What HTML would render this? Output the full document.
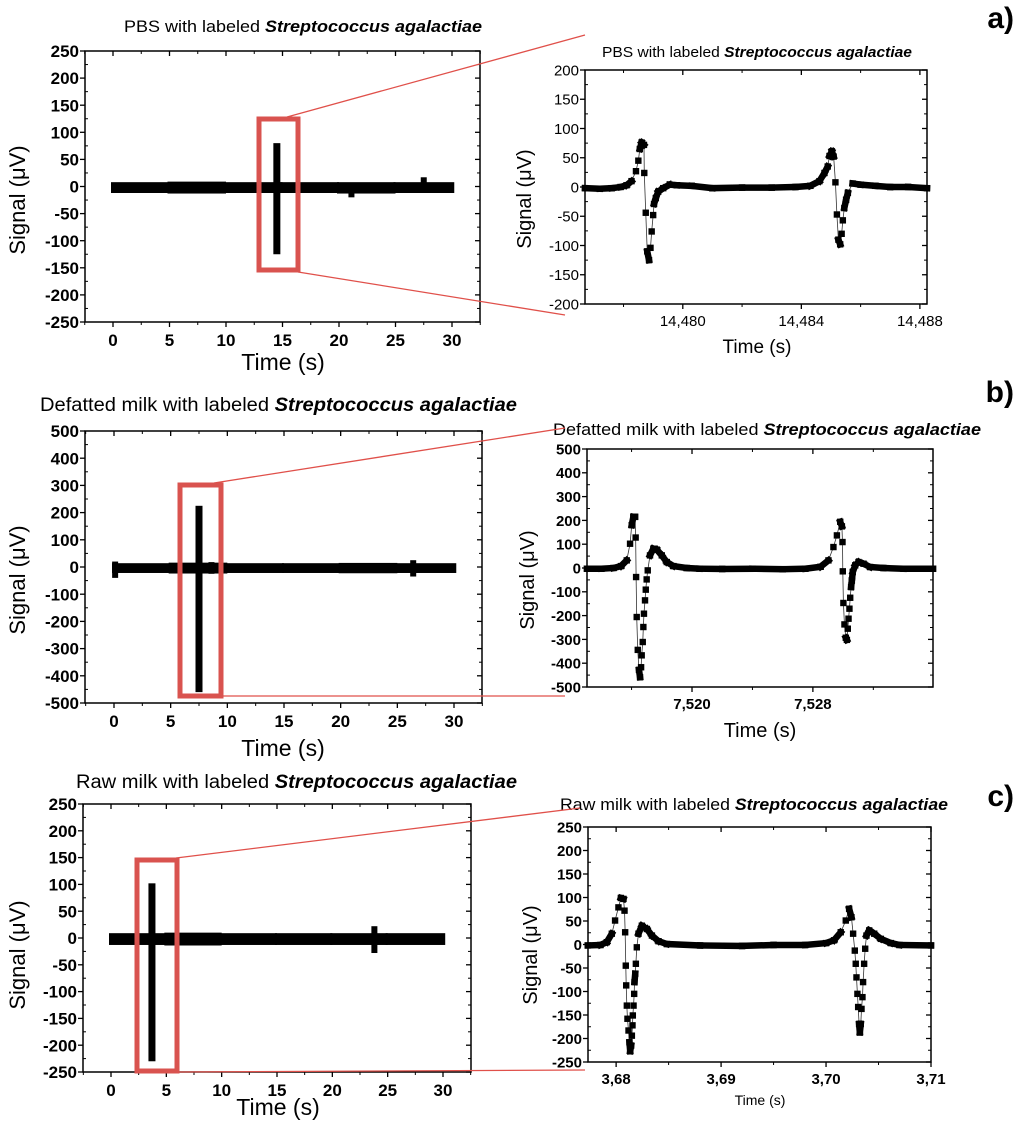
<!DOCTYPE html>
<html><head><meta charset="utf-8">
<style>
html,body{margin:0;padding:0;background:#fff;}
svg{display:block;font-family:"Liberation Sans",Arial,sans-serif;}
</style></head>
<body>
<svg id="fig" width="1024" height="1137" viewBox="0 0 1024 1137" xmlns="http://www.w3.org/2000/svg"></svg>
<script>
// ---------- Overview (left) data ----------
const aBandTimes = [0, 5, 10, 15, 20, 25, 30.2];
const aBandLo = [-12, -13, -12, -12, -13, -12];
const aBandHi = [8, 9, 8, 8, 8, 8];
const aEventTimes = [14.5, 21.1, 27.5];
const aEventLo = [-125, -20, -5];
const aEventHi = [80, 5, 17];

const bBandTimes = [0, 5, 10, 15, 20, 25, 30.2];
const bBandLo = [-22, -24, -22, -22, -23, -22];
const bBandHi = [14, 16, 14, 14, 15, 14];
const bEventTimes = [7.5, 0.1, 8.6, 26.4];
const bEventLo = [-460, -40, -25, -35];
const bEventHi = [225, 20, 18, 25];

const cBandTimes = [0, 5, 10, 15, 20, 25, 30.2];
const cBandLo = [-13, -14, -13, -13, -13, -13];
const cBandHi = [9, 10, 9, 9, 9, 9];
const cEventTimes = [3.7, 23.8];
const cEventLo = [-230, -28];
const cEventHi = [102, 22];

// ---------- Detail (right) data ----------
const aDetTimes = [14476.7,14477.2,14477.6,14477.9,14478.1,14478.27,14478.42,14478.5,14478.55,14478.61,14478.69,14478.70,14478.75,14478.80,14478.86,14478.91,14478.95,14479.0,14479.03,14479.09,14479.17,14479.34,14479.56,14479.8,14480.3,14481,14482,14483,14483.8,14484.3,14484.61,14484.78,14484.89,14484.95,14485.03,14485.09,14485.15,14485.20,14485.25,14485.31,14485.36,14485.40,14485.45,14485.51,14485.57,14485.73,14486.0,14486.5,14487,14487.6,14488.24];
const aDetValues = [-2,-3,-2,0,3,10,27,45,65,76,72,24,-44,-110,-125,-104,-76,-48,-29,-19,-8,-2,4,3,2,-2,-1,-1,0,2,10,24,35,53,61,52,8,-47,-90,-98,-80,-57,-36,-22,-10,6,4,2,0,0,-2];

const bDetTimes = [7513.05,7514,7514.8,7515.3,7515.68,7515.90,7516.01,7516.12,7516.23,7516.27,7516.30,7516.34,7516.41,7516.49,7516.56,7516.63,7516.67,7516.74,7516.78,7516.82,7516.89,7516.94,7517.00,7517.07,7517.22,7517.44,7517.67,7518.00,7518.33,7518.77,7519.65,7520.5,7522,7524,7526,7527.5,7528.5,7529.03,7529.36,7529.59,7529.81,7529.92,7529.96,7529.98,7530.02,7530.09,7530.18,7530.25,7530.31,7530.36,7530.42,7530.47,7530.53,7530.58,7530.64,7530.80,7531.02,7531.35,7531.79,7532.67,7534,7535.95];
const bDetValues = [-3,-3,0,8,32,102,180,215,215,128,-38,-206,-344,-428,-459,-417,-367,-311,-248,-192,-136,-91,-48,-10,53,81,77,53,25,8,0,-3,-4,-3,-5,-3,5,32,88,137,194,175,109,-14,-147,-237,-293,-302,-255,-213,-171,-125,-80,-52,-17,11,25,18,4,0,-3,-3];

const cDetTimes = [3.6773,3.6785,3.67911,3.67959,3.67990,3.68022,3.68045,3.68070,3.68080,3.68086,3.68092,3.68096,3.68102,3.68108,3.68118,3.68127,3.68134,3.68143,3.68150,3.68156,3.68159,3.68166,3.68172,3.68175,3.68182,3.68188,3.68197,3.68213,3.68245,3.68293,3.68341,3.68404,3.68484,3.688,3.692,3.695,3.698,3.700,3.70076,3.70140,3.70188,3.70220,3.70242,3.70258,3.70274,3.70283,3.70290,3.70299,3.70306,3.70315,3.70322,3.70331,3.70338,3.70347,3.70353,3.70363,3.70373,3.70385,3.70411,3.70459,3.70522,3.70618,3.707,3.710];
const cDetValues = [-2,-1,5,23,51,79,99,97,72,26,-45,-87,-130,-158,-183,-208,-227,-215,-194,-172,-151,-130,-105,-80,-62,-41,-6,23,40,33,19,7,1,-2,-3,-1,-1,3,9,26,51,76,58,23,-13,-41,-70,-105,-133,-169,-187,-169,-137,-112,-80,-41,-9,19,30,23,12,3,-1,-2];

// ---------- Tick arrays ----------
const overviewXTicks = [0,5,10,15,20,25,30];
const aLeftYTicks = [-250,-200,-150,-100,-50,0,50,100,150,200,250];
const bLeftYTicks = [-500,-400,-300,-200,-100,0,100,200,300,400,500];
const cLeftYTicks = [-250,-200,-150,-100,-50,0,50,100,150,200,250];
const aRightYTicks = [-200,-150,-100,-50,0,50,100,150,200];
const bRightYTicks = [-500,-400,-300,-200,-100,0,100,200,300,400,500];
const cRightYTicks = [-250,-200,-150,-100,-50,0,50,100,150,200,250];
const aRightXTicks = [14480,14484,14488];
const aRightXLabels = ["14,480","14,484","14,488"];
const bRightXTicks = [7520,7528];
const bRightXLabels = ["7,520","7,528"];
const cRightXTicks = [3.68,3.69,3.70,3.71];
const cRightXLabels = ["3,68","3,69","3,70","3,71"];

const NS = "http://www.w3.org/2000/svg";
const svg = document.getElementById('fig');
function mk(tag, attrs, parent){
  const e = document.createElementNS(NS, tag);
  for (const k in attrs) e.setAttribute(k, attrs[k]);
  (parent || svg).appendChild(e);
  return e;
}
function txt(parent, x, y, s, size, weight, anchor, extra){
  const t = mk('text', Object.assign({x:x, y:y, 'font-size':size, 'font-weight':weight||'normal', 'text-anchor':anchor||'middle', fill:'#000'}, extra||{}), parent);
  t.textContent = s;
  return t;
}

function frame(g, L, T, R, B, xTicks, xMinor, yTicks, yMinor, sx, sy, xLabels, tickFont, tickWeight){
  mk('rect',{x:L,y:T,width:R-L,height:B-T,fill:'none',stroke:'#000','stroke-width':1.5},g);
  xTicks.forEach((v,i)=>{
    const x = sx(v);
    mk('line',{x1:x,y1:B,x2:x,y2:B+5,stroke:'#000','stroke-width':1.3},g);
    mk('line',{x1:x,y1:T,x2:x,y2:T+5,stroke:'#000','stroke-width':1.3},g);
    const lab = txt(g, x, B+tickFont+7, xLabels ? xLabels[i] : String(v), tickFont, tickWeight);
    
    
  });
  xMinor.forEach(v=>{
    const x = sx(v);
    mk('line',{x1:x,y1:B,x2:x,y2:B+3,stroke:'#000','stroke-width':1},g);
    mk('line',{x1:x,y1:T,x2:x,y2:T+3,stroke:'#000','stroke-width':1},g);
  });
  yTicks.forEach(v=>{
    const y = sy(v);
    mk('line',{x1:L-5,y1:y,x2:L,y2:y,stroke:'#000','stroke-width':1.3},g);
    mk('line',{x1:R-5,y1:y,x2:R,y2:y,stroke:'#000','stroke-width':1.3},g);
    const lab = txt(g, L-6, y+tickFont*0.36, String(v), tickFont, tickWeight, 'end');
    
    
  });
  yMinor.forEach(v=>{
    const y = sy(v);
    mk('line',{x1:L,y1:y,x2:L+3,y2:y,stroke:'#000','stroke-width':1},g);
    mk('line',{x1:R-3,y1:y,x2:R,y2:y,stroke:'#000','stroke-width':1},g);
  });
}

function title(g, x, y, size, plain, italic, width){
  const t = mk('text',{x:x,y:y,'font-size':size,'text-anchor':'start',fill:'#000',textLength:width,lengthAdjust:'spacingAndGlyphs'},g);
  
  
  const s1 = mk('tspan',{},t); s1.textContent = plain;
  const s2 = mk('tspan',{'font-weight':'bold','font-style':'italic'},t); s2.textContent = italic;
}

function axisTitles(g, yx, yy, xx, xy, ysize, xsize){
  const yt = txt(g, yx, yy, 'Signal (\u03bcV)', ysize, 'normal', 'middle', {transform:'rotate(-90 '+yx+' '+yy+')'});
  
  
  const xt = txt(g, xx, xy, 'Time (s)', xsize, 'normal', 'middle');
  
  
}

function overview(cfg){
  const g = mk('g',{});
  
  
  const {L,T,R,B,x0px,x30px,ymax} = cfg;
  const sx = v => x0px + (x30px - x0px) * v / 30;
  const sy = v => T + (ymax - v) / (2*ymax) * (B - T);
  const minor = [];
  for (let v=-2.5; v<=32.5; v+=5) minor.push(v);
  const yMinor = [];
  const step = cfg.yTicks[1]-cfg.yTicks[0];
  for (let i=0;i<cfg.yTicks.length-1;i++) yMinor.push(cfg.yTicks[i]+step/2);
  frame(g,L,T,R,B,overviewXTicks,minor,cfg.yTicks,yMinor,sx,sy,null,17,'bold');
  for (let i=0;i<cfg.bandTimes.length-1;i++){
    const r = mk('rect',{x:sx(cfg.bandTimes[i])-2,y:sy(cfg.bandHi[i]),width:sx(cfg.bandTimes[i+1])-sx(cfg.bandTimes[i])+2,height:sy(cfg.bandLo[i])-sy(cfg.bandHi[i]),fill:'#000'},g);
    
    
  }
  cfg.eventTimes.forEach((t,i)=>{
    const w = i===0 ? 7 : 6;
    const r = mk('rect',{x:sx(t)-w/2,y:sy(cfg.eventHi[i]),width:w,height:sy(cfg.eventLo[i])-sy(cfg.eventHi[i]),fill:'#000'},g);
    
    
  });
  return g;
}

function detail(cfg){
  const g = mk('g',{});
  
  
  const {L,T,R,B,xmin,xmax,ymax} = cfg;
  const sx = v => L + (v - xmin)/(xmax - xmin)*(R - L);
  const sy = v => T + (ymax - v)/(2*ymax)*(B - T);
  const yMinor = [];
  const step = cfg.yTicks[1]-cfg.yTicks[0];
  for (let i=0;i<cfg.yTicks.length-1;i++) yMinor.push(cfg.yTicks[i]+step/2);
  frame(g,L,T,R,B,cfg.xTicks,cfg.xMinor,cfg.yTicks,yMinor,sx,sy,cfg.xLabels,cfg.tickFont,cfg.tickWeight);
  const pts = cfg.times.map((t,i)=>[sx(t), sy(cfg.values[i])]);
  const line = mk('polyline',{points:pts.map(p=>p.join(',')).join(' '),fill:'none',stroke:'#333','stroke-width':0.8},g);
  
  
  for (let i=0;i<pts.length-1;i++){
    if (Math.abs(pts[i+1][1]-pts[i][1]) < 9){
      const s = mk('line',{x1:pts[i][0],y1:pts[i][1],x2:pts[i+1][0],y2:pts[i+1][1],stroke:'#000','stroke-width':6.5,'stroke-linecap':'square'},g);
      
      
    }
  }
  pts.forEach(p=>{
    const m = mk('rect',{x:p[0]-3.2,y:p[1]-3.2,width:6.4,height:6.4,fill:'#000'},g);
    
    
  });
  return g;
}

function zoomBox(name, x, y, w, h, lines){
  lines.forEach(l=>{
    const ln = mk('line',{x1:l[0],y1:l[1],x2:l[2],y2:l[3],stroke:'#e0504a','stroke-width':1.3});
    
    
  });
  const r = mk('rect',{x:x,y:y,width:w,height:h,fill:'none',stroke:'#d9534f','stroke-width':5});
  
  
}

// ---- Panel a ----
const ga = overview({name:'panel-a-overview',L:85,T:51,R:480,B:322,x0px:113,x30px:452,ymax:250,yTicks:aLeftYTicks,bandTimes:aBandTimes,bandLo:aBandLo,bandHi:aBandHi,eventTimes:aEventTimes,eventLo:aEventLo,eventHi:aEventHi});
title(ga,124,32,17,'PBS with labeled ','Streptococcus agalactiae',358);
axisTitles(ga,25,200,283,370,22,23);
const gar = detail({name:'panel-a-detail',L:585,T:70,R:927,B:304,xmin:14476.7,xmax:14488.24,ymax:200,yTicks:aRightYTicks,xTicks:aRightXTicks,xMinor:[14478,14482,14486],xLabels:aRightXLabels,tickFont:15,tickWeight:'normal',times:aDetTimes,values:aDetValues});
title(gar,602,57,15,'PBS with labeled ','Streptococcus agalactiae',310);
axisTitles(gar,531,199,757,353,20,19);
zoomBox('zoom-box-a',259,119,39,151,[[287,117,585,35],[298,272,565,315]]);

// ---- Panel b ----
const gb = overview({name:'panel-b-overview',L:85,T:431,R:482,B:703,x0px:114,x30px:454,ymax:500,yTicks:bLeftYTicks,bandTimes:bBandTimes,bandLo:bBandLo,bandHi:bBandHi,eventTimes:bEventTimes,eventLo:bEventLo,eventHi:bEventHi});
title(gb,40,411,19,'Defatted milk with labeled ','Streptococcus agalactiae',477);
axisTitles(gb,25,580,283,756,22,23);
const gbr = detail({name:'panel-b-detail',L:587,T:449,R:933,B:687,xmin:7513.05,xmax:7535.95,ymax:500,yTicks:bRightYTicks,xTicks:bRightXTicks,xMinor:[7516,7524,7532],xLabels:bRightXLabels,tickFont:15,tickWeight:'bold',times:bDetTimes,values:bDetValues});
title(gbr,553,435,17,'Defatted milk with labeled ','Streptococcus agalactiae',428);
axisTitles(gbr,534,580,760,737,20,20);
zoomBox('zoom-box-b',180,485,41,211,[[214,483,565,428],[221,696,565,696]]);

// ---- Panel c ----
const gc = overview({name:'panel-c-overview',L:83,T:804,R:471,B:1072,x0px:111,x30px:443,ymax:250,yTicks:cLeftYTicks,bandTimes:cBandTimes,bandLo:cBandLo,bandHi:cBandHi,eventTimes:cEventTimes,eventLo:cEventLo,eventHi:cEventHi});
title(gc,76,788,19,'Raw milk with labeled ','Streptococcus agalactiae',441);
axisTitles(gc,25,955,278,1115,22,23);
const gcr = detail({name:'panel-c-detail',L:588,T:827,R:931,B:1062,xmin:3.67732,xmax:3.71,ymax:250,yTicks:cRightYTicks,xTicks:cRightXTicks,xMinor:[3.685,3.695,3.705],xLabels:cRightXLabels,tickFont:15,tickWeight:'bold',times:cDetTimes,values:cDetValues});
title(gcr,560,810,17,'Raw milk with labeled ','Streptococcus agalactiae',388);
axisTitles(gcr,537,955,760,1105,20,14);
zoomBox('zoom-box-c',137,860,40,211,[[176,858,580,808],[178,1072,585,1070]]);

// panel letters
[['a)',1014,28],['b)',1014,402],['c)',1014,806]].forEach(l=>{
  const t = txt(svg,l[1],l[2],l[0],30,'bold','end',{'font-family':'Liberation Sans, sans-serif'});
  
  
});
</script>
</body></html>
